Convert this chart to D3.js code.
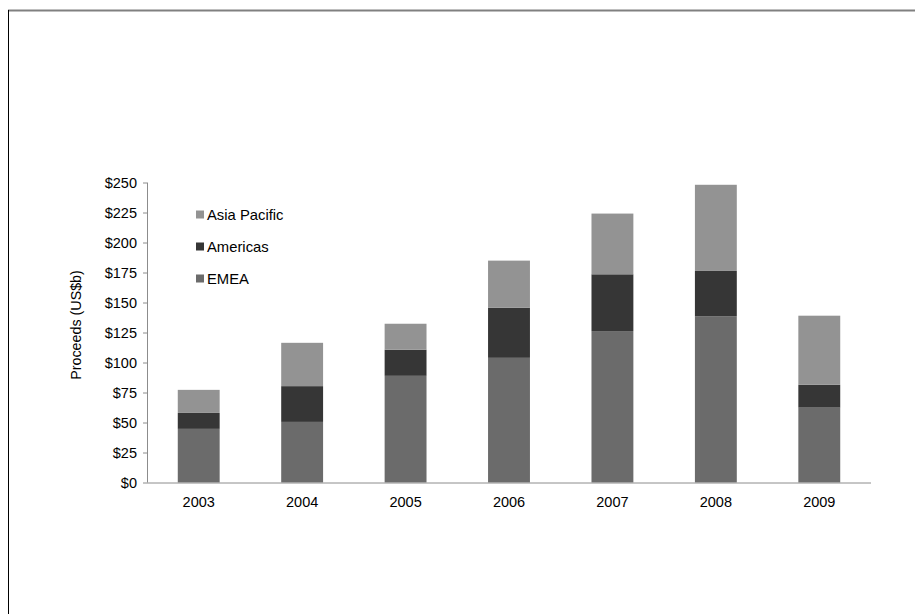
<!DOCTYPE html>
<html>
<head>
<meta charset="utf-8">
<script src="https://cdn.jsdelivr.net/npm/d3@7"></script>
<style>
  html, body { margin: 0; padding: 0; background: #fff; }
  svg { display: block; font-family: "Liberation Sans", Arial, sans-serif; }
</style>
</head>
<body>
<svg id="chart" width="915" height="614"></svg>
<script>
// Proceeds by region, US$ billions
const years = ["2003", "2004", "2005", "2006", "2007", "2008", "2009"];
const emea = [44.7, 50.5, 88.9, 103.9, 126.2, 138.4, 62.4];
const americas = [13.3, 29.8, 21.7, 41.8, 47.3, 37.9, 19.0];
const asiaPacific = [19.2, 36.1, 21.7, 39.2, 50.6, 71.8, 57.6];
const seriesNames = ["EMEA", "Americas", "Asia Pacific"];
const yTicks = [0, 25, 50, 75, 100, 125, 150, 175, 200, 225, 250];

const colors = { "EMEA": "#6b6b6b", "Americas": "#363636", "Asia Pacific": "#939393" };
const FONT = "Liberation Sans, Arial, sans-serif";

const svg = d3.select("#chart");

// outer frame
svg.append("line").attr("x1", 8).attr("x2", 915).attr("y1", 10.5).attr("y2", 10.5)
  .attr("stroke", "#808080").attr("stroke-width", 2);
svg.append("line").attr("x1", 8.5).attr("x2", 8.5).attr("y1", 10).attr("y2", 614)
  .attr("stroke", "#000").attr("stroke-width", 1);

const plotLeft = 147, plotRight = 871, plotTop = 182.5, plotBottom = 482.5;

const x = d3.scaleBand().domain(years).range([plotLeft, plotRight])
  .paddingInner(0.595).paddingOuter(0.2975);
const y = d3.scaleLinear().domain([0, 250]).range([plotBottom, plotTop]);

const rows = years.map((yr, i) => ({
  year: yr, "EMEA": emea[i], "Americas": americas[i], "Asia Pacific": asiaPacific[i]
}));
const stacked = d3.stack().keys(seriesNames)(rows);

svg.append("g").selectAll("g").data(stacked).join("g")
  .attr("fill", d => colors[d.key])
  .selectAll("rect").data(d => d).join("rect")
  .attr("x", d => x(d.data.year))
  .attr("width", x.bandwidth())
  .attr("y", d => y(d[1]))
  .attr("height", d => y(d[0]) - y(d[1]));

// y axis
const yAxis = svg.append("g").attr("transform", `translate(${plotLeft},0)`)
  .call(d3.axisLeft(y).tickValues(yTicks).tickSize(4).tickPadding(6)
    .tickFormat(d => "$" + d));
yAxis.attr("font-size", 14.5).attr("font-family", FONT);
yAxis.select(".domain").attr("stroke", "#8c8c8c").attr("d", `M0.5,${plotTop}V${plotBottom}`);
yAxis.selectAll(".tick line").attr("stroke", "#8c8c8c");
yAxis.selectAll("text").attr("fill", "#000");

// x axis
const xAxis = svg.append("g").attr("transform", `translate(0,${plotBottom})`)
  .call(d3.axisBottom(x).tickSize(0).tickPadding(14));
xAxis.attr("font-size", 14.5).attr("font-family", FONT);
xAxis.select(".domain").attr("stroke", "#8c8c8c").attr("d", `M${plotLeft},0.5H${plotRight}`);
xAxis.selectAll("text").attr("fill", "#000");

// axis title
svg.append("text")
  .attr("transform", "translate(80.5,325) rotate(-90)")
  .attr("text-anchor", "middle")
  .attr("font-size", 14.3)
  .text("Proceeds (US$b)");

// legend
const legendOrder = ["Asia Pacific", "Americas", "EMEA"];
const legend = svg.append("g").attr("transform", "translate(196,210)");
legendOrder.forEach((name, i) => {
  const g = legend.append("g").attr("transform", `translate(0,${i * 32})`);
  g.append("rect").attr("width", 8).attr("height", 8).attr("y", 0.5).attr("fill", colors[name]);
  g.append("text").attr("x", 11).attr("y", 9.5).attr("font-size", 14.8).text(name);
});
</script>
</body>
</html>
